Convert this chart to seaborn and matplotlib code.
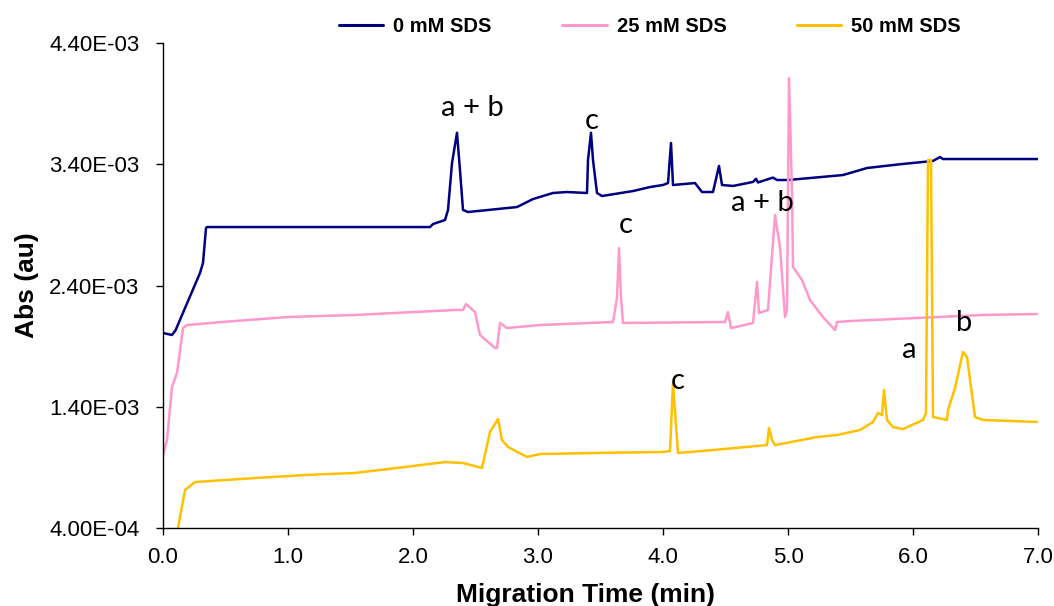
import numpy as np
import pandas as pd
import matplotlib
matplotlib.use("Agg")
import matplotlib.pyplot as plt
import seaborn as sns
from matplotlib.lines import Line2D

# ---- data (x in min, y in units of 1e-3 au) ----
series_names = ["0 mM SDS", "25 mM SDS", "50 mM SDS"]

t0 = [0.0, 0.072, 0.10, 0.296, 0.32, 0.344, 0.352, 2.136, 2.16, 2.256, 2.28, 2.312, 2.352,
      2.376, 2.40, 2.44, 2.832, 2.96, 3.12, 3.232, 3.392, 3.40, 3.424, 3.44, 3.472, 3.512,
      3.76, 3.896, 4.0, 4.04, 4.064, 4.08, 4.256, 4.312, 4.4, 4.448, 4.472, 4.56, 4.72,
      4.744, 4.76, 4.88, 4.912, 5.0, 5.44, 5.632, 5.896, 6.16, 6.216, 6.24, 6.56, 7.0]
a0 = [2.008, 1.992, 2.03, 2.503, 2.586, 2.874, 2.882, 2.882, 2.907, 2.94, 3.023, 3.41, 3.66,
      3.35, 3.023, 3.006, 3.047, 3.113, 3.163, 3.171, 3.163, 3.435, 3.66, 3.435, 3.163, 3.138,
      3.179, 3.212, 3.229, 3.245, 3.575, 3.229, 3.245, 3.171, 3.171, 3.386, 3.229, 3.221, 3.254,
      3.28, 3.25, 3.29, 3.27, 3.27, 3.311, 3.369, 3.40, 3.427, 3.46, 3.443, 3.443, 3.443]

t25 = [0.0, 0.032, 0.072, 0.112, 0.16, 0.192, 0.472, 1.0, 1.536, 2.336, 2.40, 2.424, 2.496,
       2.536, 2.656, 2.672, 2.696, 2.752, 3.016, 3.6, 3.632, 3.648, 3.664, 3.68, 4.496, 4.52,
       4.544, 4.72, 4.752, 4.768, 4.84, 4.896, 4.936, 4.976, 4.992, 5.008, 5.032, 5.04, 5.112,
       5.176, 5.28, 5.376, 5.392, 5.496, 6.2, 6.56, 7.0]
a25 = [1.00, 1.126, 1.563, 1.678, 2.049, 2.074, 2.099, 2.14, 2.157, 2.198, 2.198, 2.247, 2.181,
       1.992, 1.885, 1.885, 2.091, 2.049, 2.074, 2.099, 2.30, 2.709, 2.30, 2.091, 2.099, 2.181,
       2.049, 2.091, 2.429, 2.173, 2.198, 2.981, 2.718, 2.14, 2.198, 4.111, 3.163, 2.553, 2.445,
       2.28, 2.14, 2.033, 2.099, 2.107, 2.14, 2.157, 2.165]

t50 = [0.12, 0.176, 0.256, 0.736, 1.136, 1.536, 1.936, 2.256, 2.4, 2.552, 2.616, 2.68, 2.712,
       2.76, 2.912, 3.016, 3.472, 4.0, 4.056, 4.08, 4.12, 4.4, 4.832, 4.848, 4.872, 4.896,
       5.232, 5.392, 5.576, 5.68, 5.72, 5.752, 5.768, 5.792, 5.84, 5.92, 6.08, 6.104, 6.12,
       6.144, 6.16, 6.272, 6.28, 6.336, 6.40, 6.432, 6.496, 6.56, 7.0]
a50 = [0.40, 0.713, 0.779, 0.812, 0.837, 0.854, 0.903, 0.944, 0.936, 0.895, 1.192, 1.299, 1.126,
       1.068, 0.986, 1.010, 1.019, 1.027, 1.035, 1.596, 1.019, 1.043, 1.084, 1.225, 1.126, 1.084,
       1.150, 1.167, 1.208, 1.274, 1.349, 1.332, 1.538, 1.291, 1.233, 1.216, 1.291, 1.349, 3.435,
       3.435, 1.315, 1.291, 1.373, 1.555, 1.852, 1.810, 1.315, 1.291, 1.274]

y_ticks = [0.4, 1.4, 2.4, 3.4, 4.4]
y_tick_labels = ["4.00E-04", "1.40E-03", "2.40E-03", "3.40E-03", "4.40E-03"]
x_ticks = [0, 1, 2, 3, 4, 5, 6, 7]
x_tick_labels = ["0.0", "1.0", "2.0", "3.0", "4.0", "5.0", "6.0", "7.0"]

ann_text = ["a + b", "c", "c", "a + b", "c", "a", "b"]
ann_x = [2.472, 3.432, 3.704, 4.792, 4.12, 5.968, 6.408]
ann_y = [3.864, 3.757, 2.899, 3.08, 1.612, 1.868, 2.091]

colors = ["#000080", "#FF99CC", "#FFC000"]

# ---- build frame ----
frames = []
for name, t, a in zip(series_names, [t0, t25, t50], [a0, a25, a50]):
    frames.append(pd.DataFrame({"time": t, "abs": np.array(a) * 1e-3, "series": name}))
df = pd.concat(frames, ignore_index=True)

sns.set_style("ticks")
plt.rcParams["font.family"] = ["Liberation Sans", "DejaVu Sans"]
plt.rcParams["text.color"] = "black"
plt.rcParams["axes.labelcolor"] = "black"
plt.rcParams["xtick.color"] = "black"
plt.rcParams["ytick.color"] = "black"

fig = plt.figure(figsize=(10.54, 6.06), dpi=100)
ax = fig.add_axes([163 / 1054, 1 - 528 / 606, (1038 - 163) / 1054, (528 - 43) / 606])

sns.lineplot(data=df, x="time", y="abs", hue="series", palette=colors,
             hue_order=series_names, estimator=None, sort=False, lw=1.8, ax=ax,
             legend=False)
ax.set_xlim(0, 7)
ax.set_ylim(0.4e-3, 4.4e-3)
ax.set_xticks(x_ticks)
ax.set_xticklabels(x_tick_labels)
ax.set_yticks([v * 1e-3 for v in y_ticks])
ax.set_yticklabels(y_tick_labels)
ax.tick_params(axis="both", labelsize=16, direction="out", length=5, width=1,
               colors="black", labelcolor="black")
ax.tick_params(axis="x", pad=9)
ax.tick_params(axis="y", pad=12)
for s in ["top", "right"]:
    ax.spines[s].set_visible(False)
for s in ["left", "bottom"]:
    ax.spines[s].set_color("black")
    ax.spines[s].set_linewidth(1)

ax.set_xlabel("Migration Time (min)", fontsize=19, fontweight="bold")
ax.set_ylabel("Abs (au)", fontsize=19, fontweight="bold")
ax.xaxis.set_label_coords(0.483, -0.113)
ax.yaxis.set_label_coords(-0.142, 0.5)

for txt, x, y in zip(ann_text, ann_x, ann_y):
    ax.text(x, y * 1e-3, txt, ha="center", va="center", fontsize=21,
            family=["Lato", "DejaVu Sans"], color="black")

handles = [Line2D([0], [0], color=c, lw=2.2) for c in colors]
fig.legend(handles, series_names, loc="center", bbox_to_anchor=(650 / 1054, 1 - 27 / 606),
           ncol=3, frameon=False, prop={"weight": "bold", "size": 14.5},
           handlelength=2.2, handletextpad=0.5, columnspacing=3.5)

fig.savefig("out.png", dpi=100)
